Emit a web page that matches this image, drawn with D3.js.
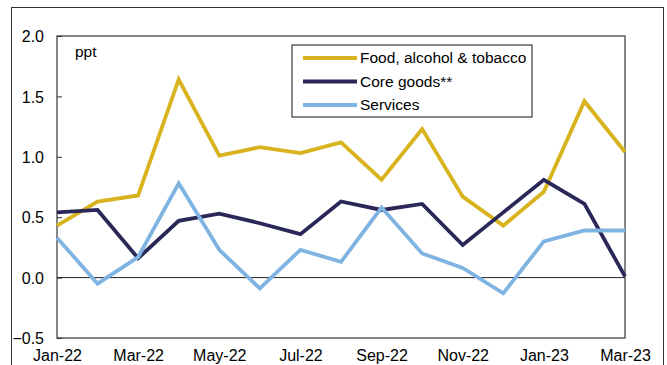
<!DOCTYPE html>
<html>
<head>
<meta charset="utf-8">
<script src="https://d3js.org/d3.v7.min.js"></script>
<style>
  body { margin: 0; background: #fff; }
  svg text { font-family: "Liberation Sans", Arial, sans-serif; fill: #000; }
</style>
</head>
<body>
<svg width="667" height="365"></svg>
<script>
// months on the x axis
const months = ["Jan-22","Feb-22","Mar-22","Apr-22","May-22","Jun-22","Jul-22","Aug-22",
                "Sep-22","Oct-22","Nov-22","Dec-22","Jan-23","Feb-23","Mar-23"];
const tickMonths = ["Jan-22","Mar-22","May-22","Jul-22","Sep-22","Nov-22","Jan-23","Mar-23"];
const yTicks = [-0.5, 0, 0.5, 1.0, 1.5, 2.0];

// contributions, ppt
const food     = [0.43, 0.63, 0.68, 1.64, 1.01, 1.08, 1.03, 1.12, 0.81, 1.23, 0.67, 0.43, 0.71, 1.46, 1.04];
const core     = [0.54, 0.56, 0.16, 0.47, 0.53, 0.45, 0.36, 0.63, 0.56, 0.61, 0.27, 0.54, 0.81, 0.61, 0.01];
const services = [0.33, -0.05, 0.17, 0.78, 0.23, -0.09, 0.23, 0.13, 0.58, 0.20, 0.08, -0.13, 0.30, 0.39, 0.39];

const seriesNames = ["Food, alcohol & tobacco", "Core goods**", "Services"];
const seriesColors = ["#D9B31E", "#2A2858", "#7FB4E2"];

const series = [food, core, services].map((v, i) => ({name: seriesNames[i], color: seriesColors[i], values: v}));

const svg = d3.select("svg");

// outer frame
svg.append("rect")
  .attr("x", 11.5).attr("y", 7.5)
  .attr("width", 652).attr("height", 370)
  .attr("fill", "none").attr("stroke", "#333").attr("stroke-width", 1);

const pLeft = 57, pRight = 625, pTop = 36, pBottom = 338;

const x = d3.scalePoint().domain(months).range([pLeft, pRight]);
const y = d3.scaleLinear().domain([-0.5, 2.0]).range([pBottom, pTop]);

// plot box
svg.append("rect")
  .attr("x", pLeft).attr("y", pTop)
  .attr("width", pRight - pLeft).attr("height", pBottom - pTop)
  .attr("fill", "none").attr("stroke", "#444").attr("stroke-width", 1.3);

// y axis, ticks pointing inward
const yAxis = svg.append("g")
  .attr("transform", `translate(${pLeft},0)`)
  .call(d3.axisLeft(y).tickValues(yTicks).tickFormat(d3.format(".1f")).tickSize(-5).tickPadding(13));
yAxis.select(".domain").remove();
yAxis.selectAll("line").attr("stroke", "#333");
yAxis.selectAll("text").attr("font-size", 16).attr("font-family", null).attr("dy", "0.36em");

// x axis labels
const xAxis = svg.append("g")
  .attr("transform", `translate(0,${pBottom})`)
  .call(d3.axisBottom(x).tickValues(tickMonths).tickSize(0).tickPadding(12));
xAxis.select(".domain").remove();
xAxis.selectAll("text").attr("font-size", 16).attr("font-family", null);

// zero line
svg.append("line")
  .attr("x1", pLeft).attr("x2", pRight)
  .attr("y1", y(0)).attr("y2", y(0))
  .attr("stroke", "#222").attr("stroke-width", 1);

const line = d3.line()
  .x((d, i) => x(months[i]))
  .y(d => y(d));

svg.append("g").selectAll("path")
  .data(series)
  .join("path")
  .attr("d", d => line(d.values))
  .attr("fill", "none")
  .attr("stroke", d => d.color)
  .attr("stroke-width", 3.8)
  .attr("stroke-linejoin", "miter");

// unit label
svg.append("text")
  .attr("x", 75).attr("y", 57)
  .attr("font-size", 15.5)
  .text("ppt");

// legend
const lg = svg.append("g");
lg.append("rect")
  .attr("x", 292).attr("y", 45)
  .attr("width", 240).attr("height", 72)
  .attr("fill", "#fff").attr("stroke", "#111").attr("stroke-width", 1);

const rows = lg.selectAll("g.row")
  .data(series)
  .join("g")
  .attr("class", "row")
  .attr("transform", (d, i) => `translate(0,${58 + i * 23.5})`);
rows.append("line")
  .attr("x1", 303).attr("x2", 357)
  .attr("stroke", d => d.color).attr("stroke-width", 3.8);
rows.append("text")
  .attr("x", 360).attr("dy", "0.35em")
  .attr("font-size", 15.5)
  .text(d => d.name);
</script>
</body>
</html>
